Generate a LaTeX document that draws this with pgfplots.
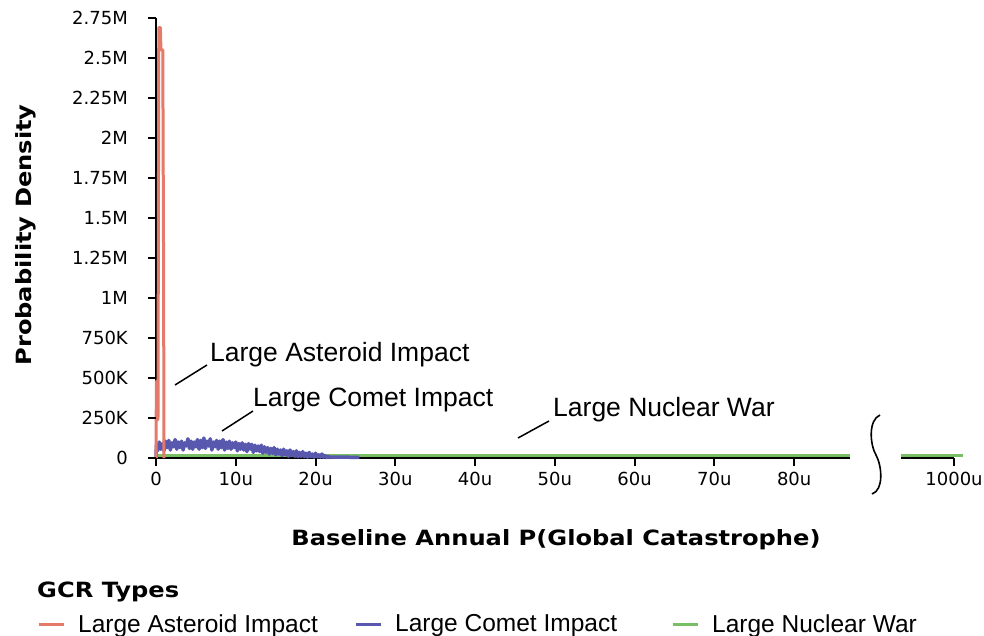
\documentclass[border=0pt]{standalone}
\usepackage{fontspec}
\setmainfont{Liberation Sans}
\newfontfamily\tickfont{DejaVu Sans}
\newfontfamily\heavyfont[FakeStretch=1.15]{DejaVu Sans}
\usepackage{pgfplots}
\pgfplotsset{compat=1.18}
\definecolor{ast}{RGB}{228,122,105}
\definecolor{com}{RGB}{88,88,175}
\definecolor{nuc}{RGB}{120,190,100}
\pgfplotsset{every tick/.style={black, line width=2pt}}
\begin{document}
\begin{tikzpicture}
\useasboundingbox (0pt,0pt) rectangle (984pt,-636pt);
\begin{axis}[
  at={(156pt,-458pt)}, anchor=south west,
  scale only axis, width=694pt, height=440pt,
  xmin=0, xmax=87, ymin=0, ymax=2750,
  axis x line*=bottom, axis y line*=left,
  axis line style={-, black},
  x axis line style={line width=2pt},
  y axis line style={line width=2.5pt},
  xtick pos=left, ytick pos=left,
  tick align=outside,
  major tick length=8pt,
  xtick={0,10,20,30,40,50,60,70,80},
  xticklabels={0,10u,20u,30u,40u,50u,60u,70u,80u},
  ytick={0,250,500,750,1000,1250,1500,1750,2000,2250,2500,2750},
  yticklabels={0,250K,500K,750K,1M,1.25M,1.5M,1.75M,2M,2.25M,2.5M,2.75M},
  xticklabel style={font=\tickfont\fontsize{18}{20}\selectfont, inner ysep=0pt, yshift=-6pt},
  yticklabel style={font=\tickfont\fontsize{18}{20}\selectfont, inner xsep=0pt, xshift=-20pt},
  clip=false,
  legend columns=3,
  legend style={draw=none, fill=none, inner sep=0pt, column sep=0pt,
    font=\fontsize{24.5}{28}\selectfont,
    at={(-0.1715,-0.3773)}, anchor=west,
    nodes={inner sep=0pt}},
  legend cell align=left,
  legend image code/.code={\draw[#1, line width=3pt] (0pt,0pt) -- (25pt,0pt); \path (38pt,0pt);},
]
\addlegendimage{ast, line width=3pt}
\addlegendimage{com, line width=3pt}
\addlegendimage{nuc, line width=3pt}
\addplot[nuc, line width=3pt, forget plot] coordinates {(0,15) (87,15)};
\addplot[com, line width=3.5pt, line join=round, forget plot] coordinates {
(0,0) (0.05,80)
(0.2,45) (0.4,100) (0.6,55) (0.8,90) (1.0,45) (1.2,105) (1.4,65) (1.6,110) (1.8,50) (2.0,95)
(2.2,70) (2.4,115) (2.6,55) (2.8,100) (3.0,65) (3.2,105) (3.4,50) (3.6,95) (3.8,75) (4.0,120)
(4.2,60) (4.4,105) (4.6,55) (4.8,100) (5.0,70) (5.2,115) (5.4,55) (5.6,110) (5.8,65) (6.0,125)
(6.2,60) (6.4,105) (6.6,75) (6.8,120) (7.0,50) (7.2,100) (7.4,70) (7.6,110) (7.8,55) (8.0,105)
(8.2,65) (8.4,115) (8.6,50) (8.8,100) (9.0,60) (9.2,105) (9.4,55) (9.6,95) (9.8,65) (10.0,100)
(10.2,45) (10.4,90) (10.6,55) (10.8,95) (11.0,50) (11.2,85) (11.4,40) (11.6,90) (11.8,55) (12.0,85)
(12.2,35) (12.4,80) (12.6,45) (12.8,75) (13.0,40) (13.2,80) (13.4,30) (13.6,70) (13.8,35) (14.0,65)
(14.2,25) (14.4,60) (14.6,30) (14.8,65) (15.0,20) (15.2,55) (15.4,25) (15.6,50) (15.8,15) (16.0,55)
(16.2,20) (16.4,45) (16.6,10) (16.8,50) (17.0,15) (17.2,40) (17.4,10) (17.6,45) (17.8,8) (18.0,35)
(18.2,10) (18.4,40) (18.6,8) (18.8,30) (19.0,5) (19.2,35) (19.4,8) (19.6,25) (19.8,5) (20.0,30)
(20.2,5) (20.4,20) (20.6,5) (20.8,25) (21.0,5) (21.2,15) (21.4,3) (21.6,12) (21.8,3) (22.0,6)
(25.5,4)};
\addplot[ast, line width=3pt, line join=round, forget plot] coordinates {
(0.00,0) (0.05,480) (0.25,240) (0.35,2690) (0.55,2690) (0.62,2550) (0.85,2550) (0.95,1220) (1.0,0)};
\legend{\makebox[276pt][l]{Large Asteroid Impact},\makebox[276pt][l]{Large Comet Impact},Large Nuclear War}
\end{axis}
\begin{axis}[
  at={(901pt,-458pt)}, anchor=south west,
  scale only axis, width=53pt, height=440pt,
  xmin=993.35, xmax=1000, ymin=0, ymax=2750,
  axis x line*=bottom, axis y line=none,
  axis line style={-, black},
  x axis line style={line width=2pt},
  xtick pos=left, tick align=outside, major tick length=8pt,
  xtick={1000}, xticklabels={1000u}, ytick=\empty,
  xticklabel style={font=\tickfont\fontsize{18}{20}\selectfont, inner ysep=0pt, yshift=-6pt},
  clip=false,
]
\addplot[nuc, line width=3pt, forget plot] coordinates {(993.35,15) (1001.13,15)};
\end{axis}
% tick marks, drawn over the axes at the axis tick positions
\foreach \k in {0,...,11} {\draw[black, line width=2pt] (148pt,{-458pt+\k*40pt}) -- ++(8pt,0pt);}
\foreach \k in {0,...,8} {\draw[black, line width=2pt] ({156pt+\k*79.77pt},-458pt) -- ++(0pt,-8pt);}
\draw[black, line width=2pt] (954pt,-458pt) -- ++(0pt,-8pt);
% axis break mark
\draw[line width=1.6pt] (880pt,-415pt) .. controls (868pt,-420pt) and (870pt,-445pt) .. (876pt,-455pt)
  .. controls (882pt,-466pt) and (884pt,-490pt) .. (872pt,-494pt);
% axis titles
\node[font=\heavyfont\bfseries\fontsize{21}{24}\selectfont, anchor=base] at (556pt,-545pt) {Baseline Annual P(Global Catastrophe)};
\node[font=\heavyfont\bfseries\fontsize{21}{24}\selectfont, anchor=base, rotate=90] at (31pt,-235pt) {Probability Density};
\node[font=\heavyfont\bfseries\fontsize{21}{24}\selectfont, anchor=base west, inner sep=0pt] at (37pt,-597pt) {GCR Types};
% annotations
\node[font=\fontsize{26.5}{30}\selectfont, anchor=base west, inner sep=0pt] at (210pt,-361pt) {Large Asteroid Impact};
\draw[line width=1.5pt] (175pt,-385pt) -- (207pt,-365pt);
\node[font=\fontsize{26.5}{30}\selectfont, anchor=base west, inner sep=0pt] at (253pt,-406pt) {Large Comet Impact};
\draw[line width=1.5pt] (222pt,-431pt) -- (253pt,-411pt);
\node[font=\fontsize{26.5}{30}\selectfont, anchor=base west, inner sep=0pt] at (553pt,-416pt) {Large Nuclear War};
\draw[line width=1.5pt] (518pt,-438pt) -- (549pt,-421pt);
\end{tikzpicture}
\end{document}
